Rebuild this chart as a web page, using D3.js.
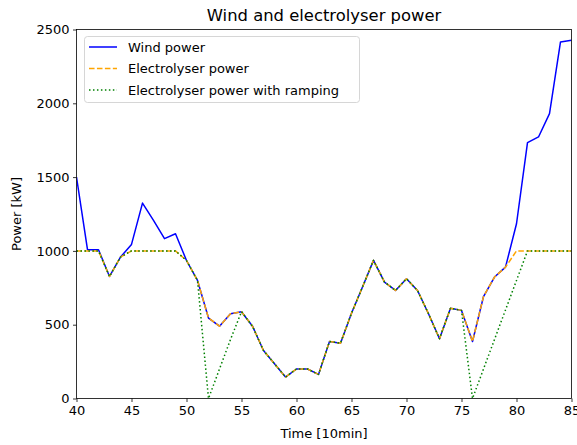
<!DOCTYPE html>
<html><head><meta charset="utf-8">
<script src="https://cdn.jsdelivr.net/npm/d3@7/dist/d3.min.js"></script>
<style>body{margin:0;background:#fff}svg{display:block}text{font-family:"DejaVu Sans",sans-serif;fill:#000}</style>
</head><body>
<svg id="c" width="577" height="445"></svg>
<script>
const time = d3.range(40, 86);
const windPower = [1500,1008,1008,827,958,1044,1324,1207,1083,1116,935,800,545,490,574,588,490,325,235,145,200,200,163,386,375,578,755,936,789,732,811,732,574,405,612,597,386,691,823,890,1184,1733,1772,1930,2416,2427];
const electrolyserPower = [1000,1000,1000,827,958,1000,1000,1000,1000,1000,935,800,545,490,574,588,490,325,235,145,200,200,163,386,375,578,755,936,789,732,811,732,574,405,612,597,386,691,823,890,1000,1000,1000,1000,1000,1000];
const rampingPower = [1000,1000,1000,827,958,1000,1000,1000,1000,1000,935,800,0,200,400,588,490,325,235,145,200,200,163,386,375,578,755,936,789,732,811,732,574,405,612,597,0,200,400,600,800,1000,1000,1000,1000,1000];
const xTicks = [40,45,50,55,60,65,70,75,80,85];
const yTicks = [0,500,1000,1500,2000,2500];
const seriesNames = ["Wind power","Electrolyser power","Electrolyser power with ramping"];

const svg = d3.select("#c");
const L = 76.5, R = 571.5, T = 29.5, B = 398.5;
const x = d3.scaleLinear().domain([40,85]).range([L,R]);
const y = d3.scaleLinear().domain([0,2500]).range([B,T]);

const series = [
  {name: seriesNames[0], values: windPower, color: "#0000ff", dash: null},
  {name: seriesNames[1], values: electrolyserPower, color: "#ffa500", dash: "5.55,2.4"},
  {name: seriesNames[2], values: rampingPower, color: "#008000", dash: "1.5,2.475"}
];

svg.append("clipPath").attr("id","cp").append("rect")
  .attr("x",L).attr("y",T).attr("width",R-L).attr("height",B-T);

const line = d3.line().x((d,i)=>x(time[i])).y(d=>y(d));
const g = svg.append("g").attr("clip-path","url(#cp)");
series.forEach(s=>{
  g.append("path").datum(s.values).attr("d",line)
   .attr("fill","none").attr("stroke",s.color).attr("stroke-width",1.5)
   .attr("stroke-dasharray",s.dash).attr("stroke-linejoin","round");
});

// axes
const fmt = d3.format("d");
const xa = svg.append("g").attr("transform",`translate(0,${B})`)
  .call(d3.axisBottom(x).tickValues(xTicks).tickFormat(fmt).tickSize(3.5).tickPadding(3.5).tickSizeOuter(0));
const ya = svg.append("g").attr("transform",`translate(${L},0)`)
  .call(d3.axisLeft(y).tickValues(yTicks).tickFormat(fmt).tickSize(3.5).tickPadding(3.5).tickSizeOuter(0));
[xa,ya].forEach(a=>{
  a.select(".domain").remove();
  a.selectAll("line").attr("stroke","#000").attr("stroke-width",0.8);
  a.selectAll("text").attr("font-size","13px").attr("font-family","DejaVu Sans").attr("fill","#000");
});
svg.append("rect").attr("x",L).attr("y",T).attr("width",R-L).attr("height",B-T)
  .attr("fill","none").attr("stroke","#000").attr("stroke-width",0.8);

svg.append("text").attr("x",(L+R)/2).attr("y",20.5).attr("text-anchor","middle")
  .attr("font-size","16.4px").text("Wind and electrolyser power");
svg.append("text").attr("x",(L+R)/2).attr("y",438).attr("text-anchor","middle")
  .attr("font-size","13px").text("Time [10min]");
svg.append("text").attr("transform",`translate(21,${(T+B)/2}) rotate(-90)`).attr("text-anchor","middle")
  .attr("font-size","13px").text("Power [kW]");

// legend
const lg = svg.append("g");
lg.append("rect").attr("x",84.5).attr("y",36.5).attr("width",275).attr("height",66).attr("rx",3)
  .attr("fill","#fff").attr("fill-opacity",0.8).attr("stroke","#cccccc").attr("stroke-width",0.8);
series.forEach((s,i)=>{
  const yy = 47 + i*21.5;
  lg.append("line").attr("x1",89).attr("x2",117).attr("y1",yy).attr("y2",yy)
    .attr("stroke",s.color).attr("stroke-width",1.5).attr("stroke-dasharray",s.dash);
  lg.append("text").attr("x",128).attr("y",yy).attr("dy","0.35em").attr("font-size","13px").text(s.name);
});
</script>
</body></html>
